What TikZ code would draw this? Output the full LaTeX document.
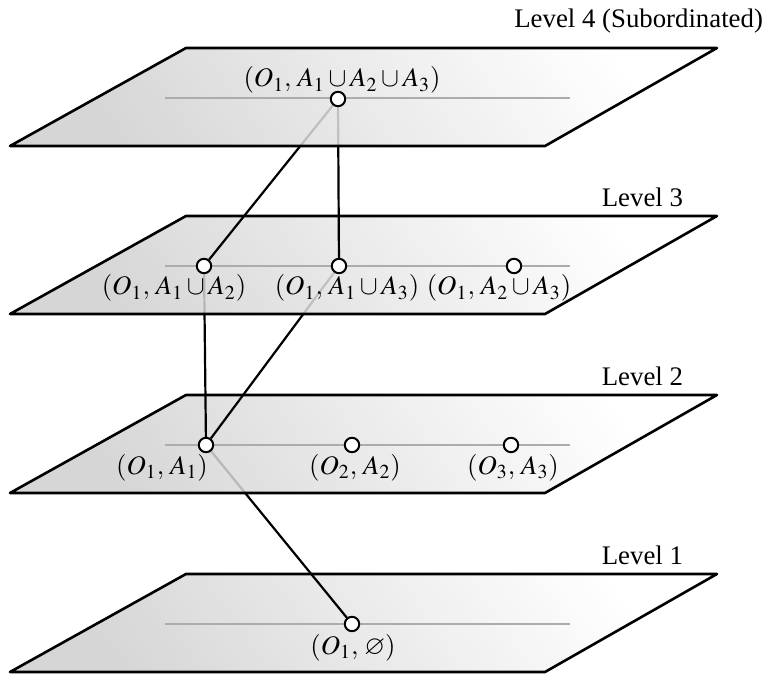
\documentclass[tikz,border=0pt]{standalone}
\usepackage{mathptmx}
\usepackage{amssymb}
\usepackage{fontspec}
\setmainfont{Liberation Serif}
\usetikzlibrary{positioning}

\pgfdeclarelayer{plane1}
\pgfdeclarelayer{plane2}
\pgfdeclarelayer{plane3}
\pgfdeclarelayer{plane4}
\pgfdeclarelayer{link1}
\pgfdeclarelayer{link2}
\pgfdeclarelayer{link3}
\pgfsetlayers{plane1,link1,plane2,link2,plane3,link3,plane4,main}

\begin{document}
\begin{tikzpicture}[
    x=0.5pt,y=-0.5pt,
    plane/.style={draw,line width=1.3pt,line join=round,top color=white,
      bottom color=gray!38,shading angle=-55,fill opacity=0.85},
    axis/.style={draw=gray!65,line width=0.7pt},
    dot/.style={circle,draw,fill=white,line width=1pt,inner sep=0pt,minimum size=7.2pt},
    link/.style={line width=1.1pt},
    lvl/.style={anchor=base east,font=\fontsize{13.4}{16}\selectfont},
    pair/.style={anchor=base,inner sep=0pt,font=\fontsize{13.4}{16}\selectfont}]
  \useasboundingbox (0,0) rectangle (773,674);

  % the four levels, bottom to top
  \foreach \i/\t in {1/574,2/395,3/216,4/48}{
    \begin{pgfonlayer}{plane\i}
      \path[plane] (186,\t) -- (717,\t) -- (545,\t+98) -- (10,\t+98) -- cycle;
      \draw[axis] (165,\t+50) -- (570,\t+50);
    \end{pgfonlayer}
  }

  \node[lvl] (lv4) at (770,28) {Level 4 (Subordinated)};
  \node[lvl] (lv3) at (690,207) {Level 3};
  \node[lvl] (lv2) at (690,386) {Level 2};
  \node[lvl] (lv1) at (690,565) {Level 1};

  % level 4
  \node[dot] (top) at (338,99) {};
  \node[pair] (top-l) at (342,87) {$(O_1,\, A_1\cup A_2\cup A_3)$};
  % level 3
  \node[dot] (a12) at (204,266) {};
  \node[dot] (a13) at (339,266) {};
  \node[dot] (a23) at (514,266) {};
  \node[pair] (a12-l) at (174,295) {$(O_1,\, A_1\cup A_2)$};
  \node[pair] (a13-l) at (347,295) {$(O_1,\, A_1\cup A_3)$};
  \node[pair] (a23-l) at (499,295) {$(O_1,\, A_2\cup A_3)$};
  % level 2
  \node[dot] (p1) at (206,445) {};
  \node[dot] (p2) at (352,445) {};
  \node[dot] (p3) at (511,445) {};
  \node[pair] (p1-l) at (162,474) {$(O_1,\, A_1)$};
  \node[pair] (p2-l) at (355,474) {$(O_2,\, A_2)$};
  \node[pair] (p3-l) at (513,474) {$(O_3,\, A_3)$};
  % level 1
  \node[dot] (empty) at (352,624) {};
  \node[pair] (empty-l) at (353,654) {$(O_1,\, \varnothing)$};

  % links, each one under the plane it leaves
  \begin{pgfonlayer}{link1}
    \draw[link] (p1) -- (empty);
  \end{pgfonlayer}
  \begin{pgfonlayer}{link2}
    \draw[link] (a12) -- (p1);
    \draw[link] (a13) -- (p1);
  \end{pgfonlayer}
  \begin{pgfonlayer}{link3}
    \draw[link] (top) -- (a12);
    \draw[link] (top) -- (a13);
  \end{pgfonlayer}
\end{tikzpicture}
\end{document}
